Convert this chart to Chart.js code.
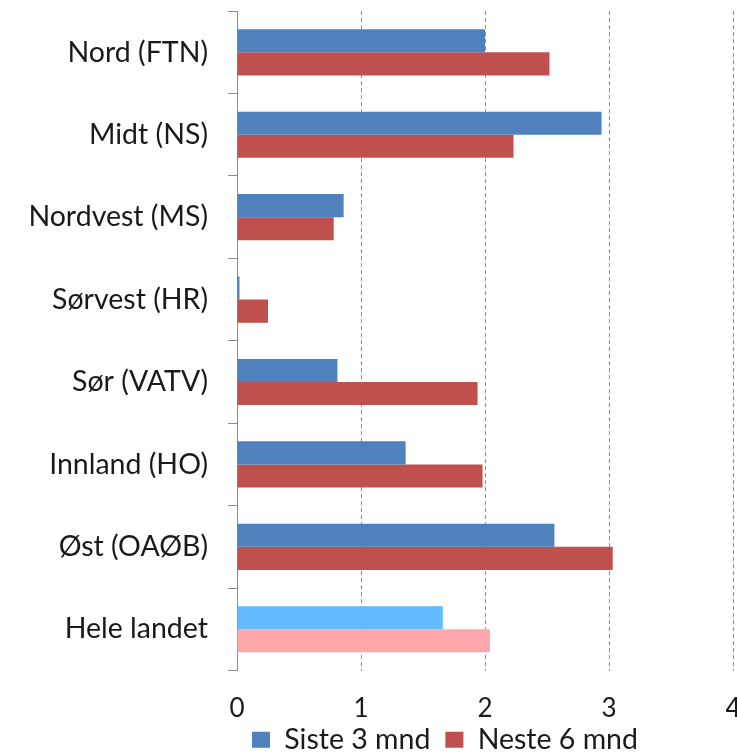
<!DOCTYPE html>
<html>
<head>
<meta charset="utf-8">
<script src="https://cdn.jsdelivr.net/npm/chart.js@4/dist/chart.umd.min.js"></script>
<style>
  html, body { margin: 0; padding: 0; background: #fff; overflow: hidden; width: 737px; height: 754px; }
  #wrap { position: absolute; left: 0; top: -26px; width: 890px; height: 790px; }
</style>
</head>
<body>
<div id="wrap"><canvas id="c" width="890" height="790"></canvas></div>
<script>
const categories = ['Nord (FTN)', 'Midt (NS)', 'Nordvest (MS)', 'Sørvest (HR)', 'Sør (VATV)', 'Innland (HO)', 'Øst (OAØB)', 'Hele landet'];
const siste3 = [2.00, 2.94, 0.86, 0.02, 0.81, 1.36, 2.56, 1.66];
const neste6 = [2.52, 2.23, 0.78, 0.25, 1.94, 1.98, 3.03, 2.04];
const seriesNames = ['Siste 3 mnd', 'Neste 6 mnd'];
const xTicks = [0, 1, 2, 3, 4];

const BLUE = '#4F81BD', RED = '#C0504D', LBLUE = '#63BAFE', PINK = '#FFA8AB';
const blueColors = categories.map((c, i) => i === categories.length - 1 ? LBLUE : BLUE);
const redColors = categories.map((c, i) => i === categories.length - 1 ? PINK : RED);
const FONT = 'Lato, "Open Sans", sans-serif';

new Chart(document.getElementById('c'), {
  type: 'bar',
  data: {
    labels: categories,
    datasets: [
      { label: seriesNames[0], data: siste3, backgroundColor: blueColors },
      { label: seriesNames[1], data: neste6, backgroundColor: redColors }
    ]
  },
  options: {
    indexAxis: 'y',
    responsive: false,
    animation: false,
    devicePixelRatio: 1,
    layout: { padding: { top: 0, right: 157, left: 0, bottom: 0 } },
    datasets: { bar: { categoryPercentage: 0.56, barPercentage: 1.0 } },
    scales: {
      x: {
        min: 0, max: 4,
        afterBuildTicks: s => { s.ticks = xTicks.map(v => ({ value: v })); },
        grid: { color: '#8c8c8c', lineWidth: 1, drawTicks: false },
        border: { display: false, dash: [4, 3] },
        ticks: { font: { family: FONT, size: 26 }, color: '#1a1a1a', mirror: true, padding: -54 },
        afterFit: s => { s.height = 40; }
      },
      y: {
        grid: { drawOnChartArea: false, color: '#8c8c8c', tickLength: 9, offset: true },
        border: { display: true, color: '#8c8c8c', width: 1 },
        ticks: { font: { family: FONT, size: 28.5 }, color: '#1a1a1a', padding: 20 },
        afterFit: s => { s.width = 237; }
      }
    },
    plugins: {
      legend: {
        position: 'bottom',
        fullSize: false,
        align: 'start',
        labels: {
          font: { family: FONT, size: 28.5 },
          color: '#1a1a1a',
          boxWidth: 18, boxHeight: 16,
          padding: 15
        }
      },
      tooltip: { enabled: false }
    }
  }
});
</script>
</body>
</html>
